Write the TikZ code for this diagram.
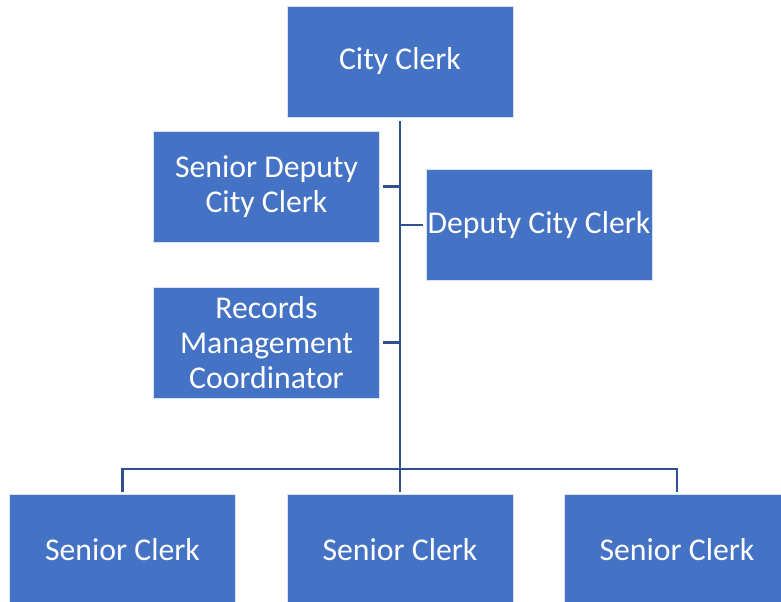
\documentclass[tikz,border=0pt]{standalone}
\usepackage{fontspec}
\setmainfont{Carlito}
\definecolor{boxblue}{HTML}{4472C4}
\definecolor{linkblue}{HTML}{2F528F}

\begin{document}
\begin{tikzpicture}[x=0.75pt,y=-0.75pt,line width=2pt,
main node/.style={rectangle,fill=boxblue,draw=white!80!boxblue,line width=0.6pt,
minimum width=169.5pt,minimum height=83.25pt,inner sep=0pt,align=center,
text=white,font=\fontsize{23.8}{26.2}\selectfont},
link/.style={draw=linkblue}]
\useasboundingbox (0,0) rectangle (781,602);
\node[main node] (cc) at (400,61.5) {\raisebox{-1.5pt}{City Clerk}};
\node[main node] (sdcc) at (266.5,186.5) {Senior Deputy\\City Clerk};
\node[main node] (dcc) at (539,225) {\raisebox{-1.5pt}{Deputy City Clerk}};
\node[main node] (rmc) at (266.5,342.5) {Records\\Management\\Coordinator};
\node[main node] (sc1) at (122.5,549.5) {Senior Clerk};
\node[main node] (sc2) at (400,549.5) {Senior Clerk};
\node[main node] (sc3) at (677,549.5) {Senior Clerk};
\coordinate (bus) at (400,469);
%trunk and side branches
\draw[link,shorten <=3pt] (cc.south) -- (bus);
\draw[link,shorten <=2pt] (sdcc.east) -- (sdcc.east -| bus);
\draw[link,shorten <=2pt] (dcc.west) -- (dcc.west -| bus);
\draw[link,shorten <=2pt] (rmc.east) -- (rmc.east -| bus);
%bottom row
\draw[link,shorten <=1.5pt,shorten >=1.5pt] (sc1.north) |- (bus) -| (sc3.north);
\draw[link,shorten >=1.5pt] (bus) -- (sc2.north);
\end{tikzpicture}
\end{document}
